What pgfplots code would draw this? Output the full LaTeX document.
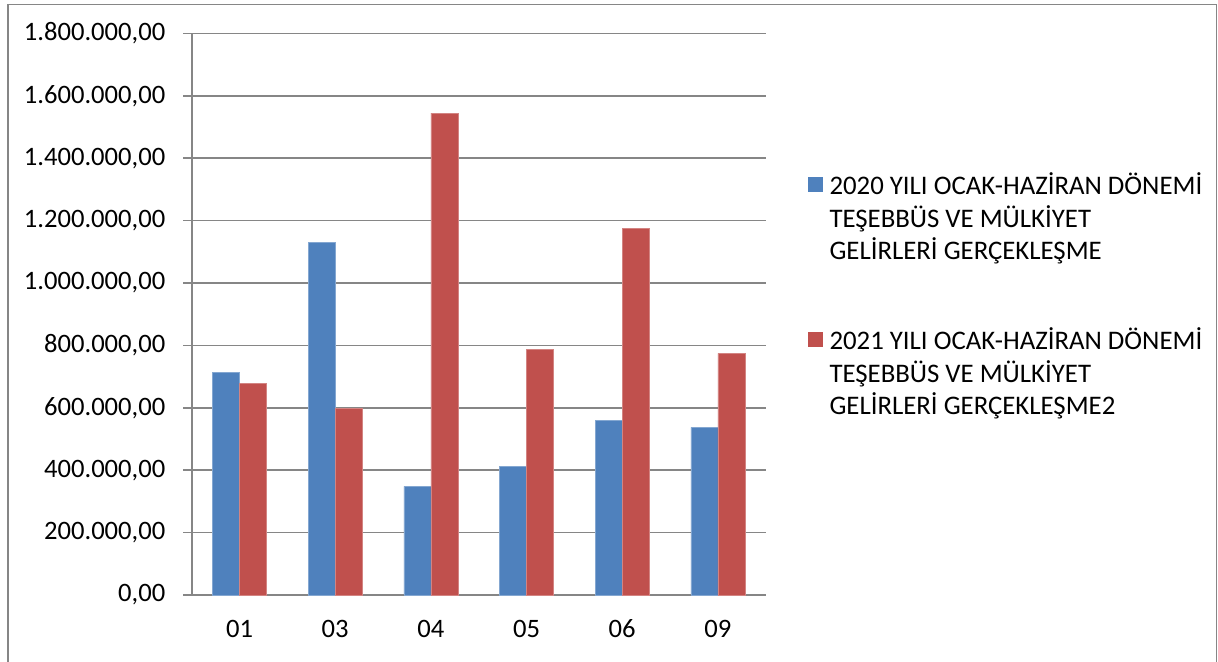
\documentclass[border=0pt]{standalone}
\usepackage{fontspec}
\setmainfont{Carlito}
\usepackage{pgfplots}
\pgfplotsset{compat=1.18}

\definecolor{barblue}{HTML}{4F81BD}
\definecolor{barred}{HTML}{C0504D}
\definecolor{gridgray}{HTML}{868686}

\newcommand{\lgd}[3]{\begin{tabular}[t]{@{}l@{}}#1\\#2\\#3\end{tabular}}

\begin{document}
\begin{tikzpicture}[font=\fontsize{13.3}{16.25}\selectfont]
  % chart area border (bottom edge lies outside the picture)
  \draw[gridgray, line width=0.6pt] (4pt,-5pt) -- (4pt,328.2pt) -- (608.3pt,328.2pt) -- (608.3pt,-5pt);
  \begin{axis}[
    at={(95.85pt,33pt)}, anchor=south west,
    scale only axis,
    width=287pt, height=280.75pt,
    axis lines=left,
    axis line style={-, gridgray, line width=0.8pt},
    ybar=0pt, bar width=13.5pt,
    xmin=-0.5, xmax=5.5,
    ymin=0, ymax=1800000,
    ytick={0,200000,...,1800000},
    scaled y ticks=false,
    /pgf/number format/.cd, use comma, fixed, fixed zerofill, precision=2, assume math mode=true,
    /pgfplots/.cd,
    ymajorgrids,
    grid style={gridgray, line width=0.8pt},
    tick align=outside,
    major tick length=4.3pt,
    tick style={gridgray, line width=0.8pt},
    xtick={0,...,5},
    xticklabels={01,03,04,05,06,09},
    major x tick style={draw=none},
    extra x ticks={-0.5,0.5,1.5,2.5,3.5,4.5,5.5},
    extra x tick labels={},
    extra x tick style={grid=none, tick style={gridgray, line width=0.8pt, draw=gridgray}},
    yticklabel style={anchor=east, inner sep=0pt, xshift=-8.7pt},
    xticklabel style={anchor=base, inner sep=0pt, yshift=-17pt},
    legend cell align=left,
    legend image code/.code={\draw[#1, draw=none] (0pt,-3.5pt) rectangle (7.5pt,4pt);},
    legend style={at={(1.0725,0.754)}, anchor=north west, draw=none, fill=none,
      inner sep=0pt, row sep=64.5pt, column sep=3.4pt,
      nodes={inner sep=0pt, font=\fontsize{13.4}{16.25}\selectfont}},
  ]
    \addplot[fill=barblue, draw=barblue!70!white, line width=0.3pt] coordinates {
      (0,713500) (1,1129400) (2,348200) (3,413400) (4,560700) (5,537300)
    };
    \addplot[fill=barred, draw=barred!70!white, line width=0.3pt] coordinates {
      (0,678200) (1,599200) (2,1544400) (3,788200) (4,1175400) (5,774400)
    };
    \legend{\lgd{2020 YILI OCAK-HAZİRAN DÖNEMİ}{TEŞEBBÜS VE MÜLKİYET}{GELİRLERİ GERÇEKLEŞME},
            \lgd{2021 YILI OCAK-HAZİRAN DÖNEMİ}{TEŞEBBÜS VE MÜLKİYET}{GELİRLERİ GERÇEKLEŞME2}}
  \end{axis}
  \pgfresetboundingbox
  \useasboundingbox (0,0) rectangle (609pt,330.5pt);
\end{tikzpicture}
\end{document}
